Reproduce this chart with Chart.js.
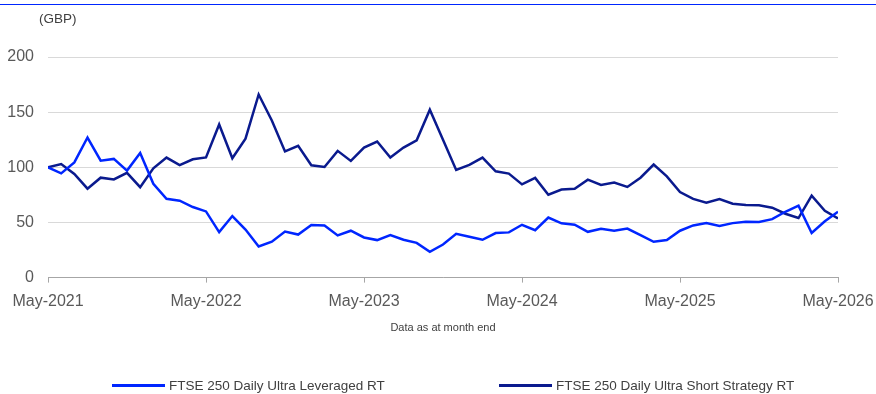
<!DOCTYPE html>
<html>
<head>
<meta charset="utf-8">
<script src="https://cdn.jsdelivr.net/npm/chart.js@4"></script>
<style>
  body { margin: 0; background: #fff; font-family: "Liberation Sans", Arial, sans-serif; }
  #wrap { position: relative; width: 876px; height: 394px; }
  #topRule { position: absolute; left: 0; top: 4px; width: 876px; height: 1px; background: #0026ff; }
  #unit { position: absolute; left: 39px; top: 11px; font-size: 13.5px; color: #404040; }
  #legend { position: absolute; top: 376px; left: 0; width: 876px; height: 18px; font-size: 13.5px; color: #404040; }
  .item { position: absolute; top: 0; display: flex; align-items: center; height: 18px; }
  .swatch { width: 53px; height: 3px; margin-right: 4px; }
</style>
</head>
<body>
<div id="wrap">
  <canvas id="perfChart" width="876" height="394"></canvas>
  <div id="topRule"></div>
  <div id="unit">(GBP)</div>
  <div id="legend"></div>
</div>
<script>
const seriesNames = ['FTSE 250 Daily Ultra Leveraged RT', 'FTSE 250 Daily Ultra Short Strategy RT'];
const seriesColors = ['#0026ff', '#0a1a8e'];
const xTickLabels = ['May-2021', 'May-2022', 'May-2023', 'May-2024', 'May-2025', 'May-2026'];
const yTicks = [0, 50, 100, 150, 200];

// month-end values, May-2021 .. May-2026
const leveraged = [
  100, 94.5, 104.5, 127, 106, 107.6, 97, 113, 85, 71.5, 69.7, 64,
  60, 41.2, 55.8, 43.6, 28.2, 32.5, 41.8, 39, 47.6, 47.3, 38.2, 42.5,
  36.4, 34, 38.5, 34.3, 31.5, 23.4, 30, 39.7, 37, 34.3, 40.4, 41,
  47.9, 43, 54.5, 49.2, 48, 41.5, 44.3, 42.5, 44.5, 38.5, 32.5, 34,
  42.5, 47.3, 49.4, 46.7, 49.4, 50.6, 50.4, 53, 59.7, 65.2, 40.4, 51,
  59.7
];
const shortStrategy = [
  100, 103, 94, 80.6, 90.6, 89, 95, 82, 99, 108.8, 102, 107.3,
  109, 138.8, 108.2, 126, 166, 142.5, 114.4, 119.4, 101.8, 100.3, 114.9, 105.8,
  117.9, 123.4, 108.8, 117.9, 124.5, 152.2, 125, 97.6, 102.2, 108.8, 96.4, 94.3,
  84.5, 90.4, 75.2, 79.8, 80.5, 88.8, 84, 86.1, 82.2, 90.6, 102.5, 91.8,
  77.6, 71.3, 67.9, 71.3, 67, 65.8, 65.5, 63.4, 57.9, 54, 74.3, 60.6,
  53.6
];

const font = '"Liberation Sans", Arial, sans-serif';

function toPoints(values) {
  return values.map((v, i) => ({ x: i, y: v }));
}

const ctx = document.getElementById('perfChart').getContext('2d');
const perfChart = new Chart(ctx, {
  type: 'line',
  data: {
    datasets: [
      {
        label: seriesNames[0],
        data: toPoints(leveraged),
        borderColor: seriesColors[0],
        backgroundColor: seriesColors[0],
        borderWidth: 2.5,
        pointRadius: 0,
        tension: 0
      },
      {
        label: seriesNames[1],
        data: toPoints(shortStrategy),
        borderColor: seriesColors[1],
        backgroundColor: seriesColors[1],
        borderWidth: 2.5,
        pointRadius: 0,
        tension: 0
      }
    ]
  },
  options: {
    responsive: false,
    animation: false,
    layout: { padding: { left: 6, right: 0, top: 57, bottom: 59 } },
    scales: {
      x: {
        type: 'linear',
        min: 0,
        max: 60,
        afterFit: (scale) => { scale.paddingRight = 38; },
        ticks: {
          stepSize: 12,
          autoSkip: false,
          maxRotation: 0,
          padding: 9,
          color: '#595959',
          font: { family: font, size: 16 },
          callback: (v) => xTickLabels[v / 12]
        },
        grid: { drawOnChartArea: false, drawTicks: true, tickLength: 5, color: '#a6a6a6' },
        border: { display: true, color: '#a6a6a6', width: 1 },
        title: {
          display: true,
          text: 'Data as at month end',
          color: '#404040',
          font: { family: font, size: 11 },
          padding: { top: 2, bottom: 0 }
        }
      },
      y: {
        min: 0,
        max: 200,
        afterFit: (scale) => { scale.width = 42; },
        afterBuildTicks: (scale) => { scale.ticks = yTicks.map(v => ({ value: v })); },
        ticks: {
          padding: 14,
          color: '#595959',
          font: { family: font, size: 16 }
        },
        grid: { color: '#d9d9d9', drawTicks: false },
        border: { display: false }
      }
    },
    plugins: {
      legend: { display: false },
      tooltip: { enabled: false }
    }
  }
});

// legend drawn as html under the canvas
const legendEl = document.getElementById('legend');
const legendLeft = [112, 499];
seriesNames.forEach((name, i) => {
  const item = document.createElement('div');
  item.className = 'item';
  item.style.left = legendLeft[i] + 'px';
  item.innerHTML = '<span class="swatch" style="background:' + seriesColors[i] + '"></span><span>' + name + '</span>';
  legendEl.appendChild(item);
});
</script>
</body>
</html>
